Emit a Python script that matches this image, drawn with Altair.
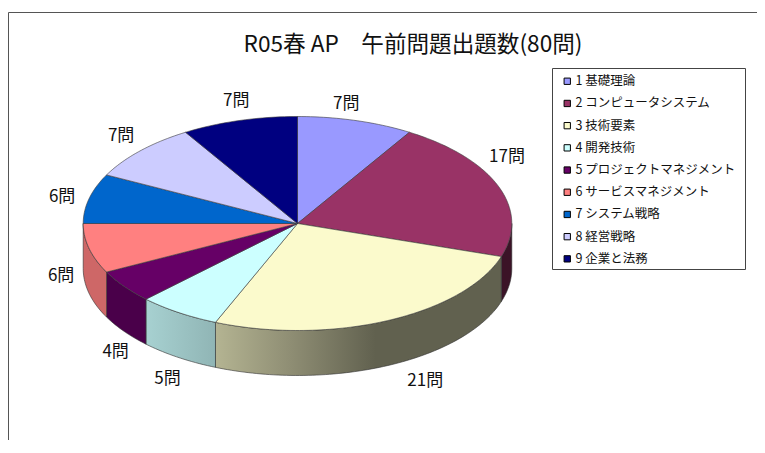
import math
import altair as alt
import pandas as pd

# ---- data ----
TITLE = "R05春 AP\u3000午前問題出題数(80問)"
categories = ["1 基礎理論", "2 コンピュータシステム", "3 技術要素", "4 開発技術",
              "5 プロジェクトマネジメント", "6 サービスマネジメント", "7 システム戦略",
              "8 経営戦略", "9 企業と法務"]
counts = [7, 17, 21, 5, 4, 6, 6, 7, 7]
colors = ["#9999FF", "#993366", "#FBFACC", "#CCFFFF", "#660066",
          "#FF8080", "#0066CC", "#CCCCFF", "#000080"]

# ---- layout (page pixels minus the 8px body margin) ----
W, H = 749, 432
CX, CY = 297.5 - 8, 223.5 - 8
RX, RY = 214.3, 107.0
DEPTH = 45.0
FONT = "Noto Sans CJK JP"
# per-label nudge from the rim point of the slice's mid-angle
label_offset = [(-9.5, -16.5), (8.5, -29), (38, 60), (-11, 67), (-8.5, 66),
                (-28, 27.5), (-27, -1.5), (-19, -15), (-3, -19.5)]
# shade of each visible wall: (offset in the wall's box, brightness)
wall_shades = {
    1: [(0, .39), (1, .39)],
    2: [(0, .72), (.26, .57), (.56, .39), (1, .39)],
    3: [(0, .82), (1, .71)],
    4: [(0, .73), (1, .73)],
    5: [(0, .81), (1, .81)],
}


def rim(t, drop=0.0):
    return CX + RX * math.sin(t), CY - RY * math.cos(t) + drop


total = sum(counts)
edges = [0.0]
for c in counts:
    edges.append(edges[-1] + c / total * 2 * math.pi)


def arc(t0, t1, drop=0.0):
    n = max(2, int(abs(t1 - t0) / 0.02))
    return [rim(t0 + (t1 - t0) * i / n, drop) for i in range(n + 1)]


def shade(hex_color, b):
    r, g, bl = (int(hex_color[i:i + 2], 16) for i in (1, 3, 5))
    return "#%02x%02x%02x" % (int(r * b), int(g * b), int(bl * b))


xs = alt.X("x:Q", scale=alt.Scale(domain=[0, W]), axis=None)
ys = alt.Y("y:Q", scale=alt.Scale(domain=[H, 0]), axis=None)
layers = []

# legend box, drawn behind the real legend
box = pd.DataFrame({"a": [0]})
layers.append(alt.Chart(box).mark_rect(fill="#ffffff", stroke="#444444", strokeWidth=1).encode(
    x=alt.value(552.5 - 8), x2=alt.value(745.5 - 8),
    y=alt.value(68.5 - 8), y2=alt.value(269.5 - 8)))

# walls
for i, stops in wall_shades.items():
    t0 = max(edges[i], math.pi / 2)
    t1 = min(edges[i + 1], 3 * math.pi / 2)
    pts = arc(t0, t1) + arc(t1, t0, DEPTH)
    pts.append(pts[0])
    df = pd.DataFrame(pts, columns=["x", "y"]).reset_index(names="idx")
    grad = alt.LinearGradient(
        gradient="linear", x1=0, x2=1, y1=0, y2=0,
        stops=[alt.GradientStop(color=shade(colors[i], b), offset=o) for o, b in stops],
    )
    layers.append(
        alt.Chart(df).mark_line(filled=True, fill=grad, stroke="#2f2f2f", strokeWidth=0.6)
        .encode(x=xs, y=ys, order=alt.Order("idx:Q"))
    )

# top faces
rows = []
for i, lab in enumerate(categories):
    pts = [(CX, CY)] + arc(edges[i], edges[i + 1]) + [(CX, CY)]
    rows += [{"label": lab, "idx": j, "x": p[0], "y": p[1]} for j, p in enumerate(pts)]
top = pd.DataFrame(rows)
layers.append(
    alt.Chart(top).mark_line(filled=True, stroke="#3a3a3a", strokeWidth=0.6).encode(
        x=xs, y=ys, order=alt.Order("idx:Q"),
        color=alt.Color(
            "label:N",
            scale=alt.Scale(domain=categories, range=colors),
            legend=alt.Legend(
                title=None, orient="none", legendX=561 - 8, legendY=75 - 8,
                symbolType="square", symbolSize=40, symbolStrokeColor="#000000",
                symbolStrokeWidth=1, symbolOpacity=1, labelFont=FONT, labelFontSize=12.5,
                labelColor="#111111", labelOffset=2, labelLimit=300, rowPadding=9.2,
                padding=0, columns=1, values=categories,
            ),
        ),
    )
)

# data labels
lab_rows = []
for i, c in enumerate(counts):
    x, y = rim((edges[i] + edges[i + 1]) / 2)
    dx, dy = label_offset[i]
    lab_rows.append({"x": x + dx, "y": y + dy, "text": f"{c}問"})
layers.append(
    alt.Chart(pd.DataFrame(lab_rows))
    .mark_text(font=FONT, fontSize=17, color="#111111", align="center", baseline="middle")
    .encode(x=xs, y=ys, text="text:N")
)

# outer frame of the picture
frame = pd.DataFrame({"a": [0]})
layers.append(alt.Chart(frame).mark_rule(color="#555555", strokeWidth=1).encode(
    x=alt.value(0.5), y=alt.value(4.5), y2=alt.value(H)))
layers.append(alt.Chart(frame).mark_rule(color="#555555", strokeWidth=1).encode(
    x=alt.value(0.5), x2=alt.value(W), y=alt.value(4.5)))

chart = alt.layer(*layers).properties(
    width=W, height=H, padding=0, background="#ffffff",
    autosize=alt.AutoSizeParams(type="none"),
    title=alt.TitleParams(TITLE, font=FONT, fontSize=22.6, fontWeight="normal", color="#111111",
                          anchor="middle", dx=413 - 8 - W / 2, offset=-49),
).configure_view(stroke=None)

chart.save("out.html", embed_options={"renderer": "svg", "actions": False})
